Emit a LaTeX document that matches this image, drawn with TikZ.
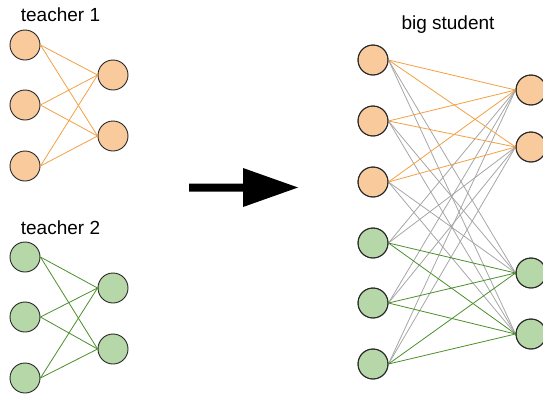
\documentclass[tikz,border=0pt]{standalone}
\usepackage{fontspec}
\setmainfont{Liberation Sans}
\definecolor{ofill}{HTML}{F9CB9C}
\definecolor{gfill}{HTML}{B6D7A8}
\definecolor{oline}{HTML}{F2A043}
\definecolor{gline}{HTML}{4A8F2A}
\definecolor{grayline}{HTML}{A6A6A6}
\begin{document}
\begin{tikzpicture}[x=1pt,y=-1pt,
  neuron/.style={circle,draw=black!85,line width=0.9pt,minimum size=30pt,inner sep=0pt},
  oneuron/.style={neuron,fill=ofill},
  gneuron/.style={neuron,fill=gfill},
  oedge/.style={oline,line width=0.8pt},
  gedge/.style={gline,line width=0.8pt},
  xedge/.style={grayline,line width=0.8pt},
  lbl/.style={inner sep=0pt,font=\fontsize{19}{22}\selectfont,anchor=base}]
\useasboundingbox (0,0) rectangle (543,397);
% teacher 1
\node[lbl] (t1) at (60.5,21) {teacher 1};
\node[oneuron] (a1) at (25,45) {};
\node[oneuron] (a2) at (25,105) {};
\node[oneuron] (a3) at (25,166) {};
\node[oneuron] (b1) at (113,75) {};
\node[oneuron] (b2) at (113,136) {};
\foreach \i in {1,2,3}{\foreach \j in {1,2}{\draw[oedge] (a\i.east) -- (b\j.west);}}
% teacher 2
\node[lbl] (t2) at (60.5,234) {teacher 2};
\node[gneuron] (c1) at (25,257) {};
\node[gneuron] (c2) at (25,317) {};
\node[gneuron] (c3) at (25,378) {};
\node[gneuron] (d1) at (113,288) {};
\node[gneuron] (d2) at (113,349) {};
\foreach \i in {1,2,3}{\foreach \j in {1,2}{\draw[gedge] (c\i.east) -- (d\j.west);}}
% arrow
\fill[black] (189,183.5) -- (243,183.5) -- (243,168) -- (298,187.5) -- (243,207) -- (243,191.5) -- (189,191.5) -- cycle;
% big student
\node[lbl] (t3) at (448,29) {big student};
\node[oneuron] (s1) at (373,60) {};
\node[oneuron] (s2) at (373,121) {};
\node[oneuron] (s3) at (373,182) {};
\node[gneuron] (s4) at (373,243) {};
\node[gneuron] (s5) at (373,303) {};
\node[gneuron] (s6) at (373,364) {};
\node[oneuron] (r1) at (531,90) {};
\node[oneuron] (r2) at (531,147) {};
\node[gneuron] (r3) at (531,273) {};
\node[gneuron] (r4) at (531,334) {};
\foreach \i in {1,2,3}{\foreach \j in {3,4}{\draw[xedge] (s\i.east) -- (r\j.west);}}
\foreach \i in {4,5,6}{\foreach \j in {1,2}{\draw[xedge] (s\i.east) -- (r\j.west);}}
\foreach \i in {1,2,3}{\foreach \j in {1,2}{\draw[oedge] (s\i.east) -- (r\j.west);}}
\foreach \i in {4,5,6}{\foreach \j in {3,4}{\draw[gedge] (s\i.east) -- (r\j.west);}}
\foreach \n in {s1,s2,s3,s4,s5,s6,r1,r2,r3,r4}{\draw[black!85,line width=0.9pt] (\n) circle (15pt);}
\end{tikzpicture}
\end{document}
